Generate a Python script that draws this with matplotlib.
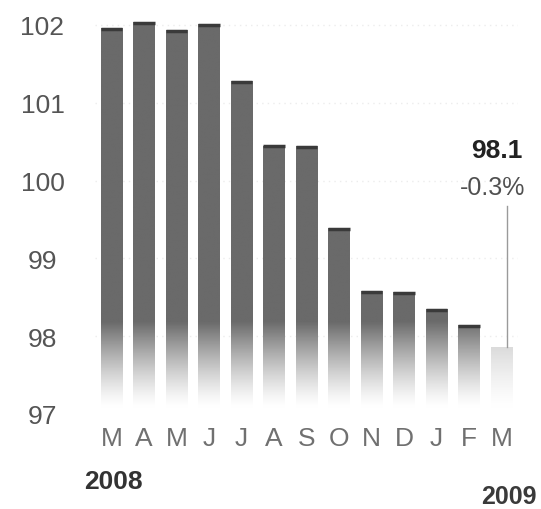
import numpy as np
import matplotlib.pyplot as plt
from matplotlib.colors import to_rgb

plt.rcParams['font.family'] = ['Liberation Sans', 'DejaVu Sans']

months = ["M", "A", "M", "J", "J", "A", "S", "O", "N", "D", "J", "F", "M"]
values = [101.96, 102.04, 101.93, 102.01, 101.28, 100.45, 100.44,
          99.39, 98.58, 98.57, 98.35, 98.14, 97.86]
yticks = [97, 98, 99, 100, 101, 102]
last_value_label = "98.1"
last_change_label = "-0.3%"

W, H = 541, 510
fig = plt.figure(figsize=(W / 100, H / 100), dpi=100)
ax = fig.add_axes([95.25 / W, (H - 415) / H, 422.5 / W, 404.6 / H])

for v in yticks[1:]:
    ax.axhline(v, color="#ececec", lw=1, ls=(0, (1, 3)), zorder=0)

x = np.arange(len(values))
bars = ax.bar(x, np.array(values) - 97, bottom=97, width=0.65,
              facecolor="none", edgecolor="none")

# vertical fade towards the baseline
ys = np.linspace(97, 102.2, 300)
t = np.clip((ys - 97.08) / 1.1, 0, 1) ** 1.3
for i, b in enumerate(bars):
    base = np.array(to_rgb("#c6c6c6" if i == len(values) - 1 else "#6a6a6a"))
    col = (1 - t)[:, None] * 1.0 + t[:, None] * base[None, :]
    x0 = b.get_x()
    im = ax.imshow(col[:, None, :], extent=[x0, x0 + b.get_width(), 97, 102.2],
                   origin="lower", aspect="auto", zorder=2)
    im.set_clip_path(b)
    if i < len(values) - 1:
        ax.plot([x0, x0 + b.get_width()], [values[i] - 0.01] * 2,
                color="#3a3a3a", lw=2.5, zorder=3, solid_capstyle="butt")

ax.set_xlim(-0.5, 12.5)
ax.set_ylim(97, 102.2)

for s in ax.spines.values():
    s.set_visible(False)
ax.set_yticks(yticks)
ax.set_yticklabels([str(v) for v in yticks], fontsize=19, color="#555555")
for lbl in ax.get_yticklabels():
    lbl.set_horizontalalignment("center")
ax.tick_params(axis="y", length=0, pad=38)
ax.set_xticks(x)
ax.set_xticklabels(months, fontsize=19, color="#707070")
ax.tick_params(axis="x", length=0, pad=9)

# annotation for the latest month
ax.plot([12.18, 12.18], [values[-1], 99.67], color="#9a9a9a", lw=1, zorder=3)
fig.text(522 / W, 1 - 151 / H, last_value_label, fontsize=19, fontweight="bold",
         color="#222222", ha="right", va="center")
fig.text(525 / W, 1 - 188 / H, last_change_label, fontsize=18,
         color="#505050", ha="right", va="center")

fig.text(84 / W, 1 - 482 / H, "2008", fontsize=19, fontweight="bold",
         color="#333333", ha="left", va="center")
fig.text(537 / W, 1 - 497 / H, "2009", fontsize=18, fontweight="bold",
         color="#3a3a3a", ha="right", va="center")

fig.savefig("out.png", dpi=100)
